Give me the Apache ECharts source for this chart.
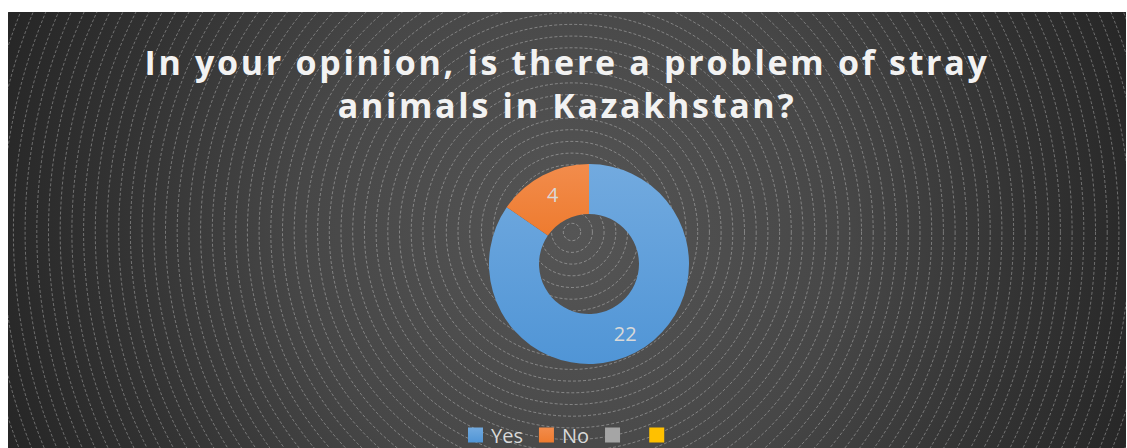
<!DOCTYPE html>
<html><head><meta charset="utf-8">
<script src="https://cdn.jsdelivr.net/npm/echarts@6/dist/echarts.min.js"></script>
<style>
html,body{margin:0;padding:0;background:#fff;width:1127px;height:448px;overflow:hidden}
#chart{position:absolute;left:8px;top:12px;width:1118px;height:436px}
#chart text[style*="bold"]{letter-spacing:2.7px}
</style></head><body><div id="chart"></div>
<script>
const titleText = 'In your opinion, is there a problem of stray\nanimals in Kazakhstan?';
const categories = ['Yes', 'No', ' ', '  '];
const values = [22, 4, 0, 0];
const sliceColors = [
  ['#72aadf', '#5095d6'],
  ['#f28c4c', '#ee7b2f'],
  ['#a5a5a5', '#a5a5a5'],
  ['#ffc000', '#ffc000']
];

const W = 1118, H = 436;
const bgCx = 564, bgCy = 220;
const graphics = [{
  type: 'rect', silent: true, z: -10,
  shape: {x: 0, y: 0, width: W, height: H},
  style: {fill: new echarts.graphic.RadialGradient(bgCx, bgCy, 620, [
    {offset: 0, color: '#555555'},
    {offset: 0.44, color: '#474747'},
    {offset: 0.73, color: '#333333'},
    {offset: 0.97, color: '#262626'},
    {offset: 1, color: '#252525'}
  ], true)}
}];
for (let i = 1; i <= 62; i++) {
  graphics.push({
    type: 'circle', silent: true, z: -9,
    shape: {cx: bgCx, cy: bgCy, r: i * 11.7 - 3},
    style: {fill: 'none', stroke: 'rgba(255,255,255,0.32)', lineWidth: 1, lineDash: [3, 2]}
  });
}

const chart = echarts.init(document.getElementById('chart'), null, {renderer: 'svg', width: W, height: H});
chart.setOption({
  animation: false,
  graphic: graphics,
  title: {
    text: titleText,
    left: 'center',
    top: 23,
    padding: [5, 0, 5, 11],
    textStyle: {
      color: '#f2f2f2', fontFamily: 'Open Sans', fontWeight: 'bold',
      fontSize: 34, lineHeight: 43
    }
  },
  legend: {
    data: categories,
    bottom: 3,
    left: 460,
    icon: 'rect',
    itemWidth: 15,
    itemHeight: 15,
    itemGap: 16,
    padding: 0,
    selectedMode: false,
    textStyle: {color: '#d9d9d9', fontFamily: 'Open Sans', fontSize: 20, padding: [0, 0, 0, 3]}
  },
  series: [{
    type: 'pie',
    center: [581, 252],
    radius: [50, 100],
    startAngle: 90,
    clockwise: true,
    silent: true,
    label: {
      show: true, position: 'inside', formatter: '{c}',
      color: '#d9d9d9', fontFamily: 'Open Sans', fontSize: 20
    },
    labelLine: {show: false},
    emphasis: {disabled: true},
    data: categories.map((name, i) => ({
      name: name,
      value: values[i],
      label: {show: values[i] > 0},
      itemStyle: {color: new echarts.graphic.LinearGradient(0, 0, 0, 1, [
        {offset: 0, color: sliceColors[i][0]},
        {offset: 1, color: sliceColors[i][1]}
      ])}
    }))
  }]
});
</script></body></html>
